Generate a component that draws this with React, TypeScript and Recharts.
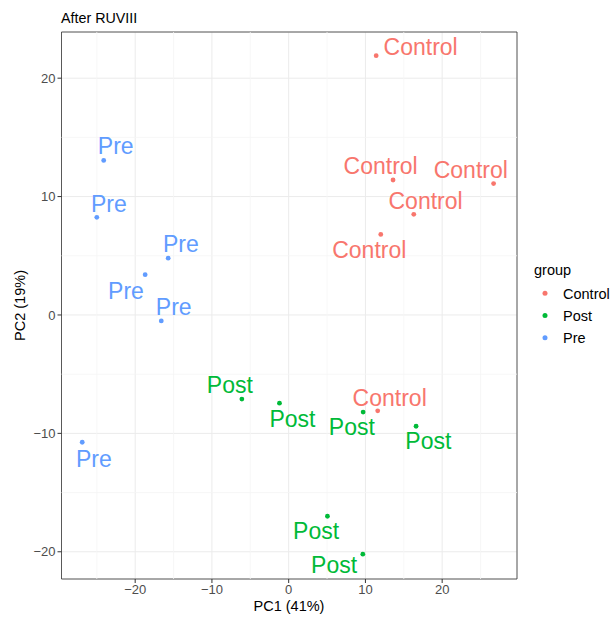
import React from "react"
import { ScatterChart, Scatter, XAxis, YAxis, CartesianGrid, ReferenceLine, ReferenceArea } from "recharts"

// PCA scores after RUVIII
const controlPC1 = [11.4, 13.6, 26.7, 16.3, 12.0, 11.6]
const controlPC2 = [21.9, 11.4, 11.1, 8.5, 6.8, -8.1]
const postPC1 = [-6.1, -1.2, 9.7, 16.6, 5.05, 9.66]
const postPC2 = [-7.1, -7.45, -8.2, -9.4, -17.0, -20.2]
const prePC1 = [-24.1, -25.0, -15.7, -18.7, -16.6, -26.9]
const prePC2 = [13.05, 8.25, 4.8, 3.4, -0.5, -10.75]

const xTicks = [-20, -10, 0, 10, 20]
const yTicks = [-20, -10, 0, 10, 20]
const xMinor = [-25, -15, -5, 5, 15, 25]
const yMinor = [-15, -5, 5, 15]

// repel-style label nudges (px) for each point, same order as the data
const controlNudge = [[44.5, -0.7], [-12.4, -6], [-22.8, -6], [11.8, -5.7], [-11.5, 23.3], [12, -5]]
const postNudge = [[-12, -5.7], [13, 23.4], [-11.3, 22.7], [12.3, 22.3], [-11.3, 22.6], [-28.7, 19.3]]
const preNudge = [[12, -6], [12, -5.3], [12.6, -5.7], [-19.2, 24], [12.5, -6.3], [11.6, 24.4]]

const groups = [
  { name: "Control", color: "#F8766D", xs: controlPC1, ys: controlPC2, nudge: controlNudge },
  { name: "Post", color: "#00BA38", xs: postPC1, ys: postPC2, nudge: postNudge },
  { name: "Pre", color: "#619CFF", xs: prePC1, ys: prePC2, nudge: preNudge },
]

const font = "'Liberation Sans', Arial, Helvetica, sans-serif"
const fmt = (v: number) => (v < 0 ? `\u2212${Math.abs(v)}` : `${v}`)

function LabelledDot(props: any) {
  const { cx, cy, payload, fill } = props
  if (cx == null || cy == null) return null
  return (
    <g>
      <circle cx={cx} cy={cy} r={2.4} fill={fill} />
      <text
        x={cx + payload.dx}
        y={cy + payload.dy}
        textAnchor="middle"
        fontSize={23}
        fontFamily={font}
        fill={fill}
      >
        {payload.label}
      </text>
    </g>
  )
}

export default function App() {
  return (
    <div style={{ position: "absolute", left: 0, top: 0, width: 611, height: 619, background: "#fff" }}>
      <ScatterChart
        width={611}
        height={619}
        margin={{ top: 32, right: 94, bottom: 0, left: 16.5 }}
        style={{ fontFamily: font }}
      >
        {xMinor.map((v) => (
          <ReferenceLine key={"xm" + v} x={v} stroke="#F5F5F5" strokeWidth={0.8} />
        ))}
        {yMinor.map((v) => (
          <ReferenceLine key={"ym" + v} y={v} stroke="#F5F5F5" strokeWidth={0.8} />
        ))}
        <CartesianGrid stroke="#EBEBEB" strokeWidth={1} />
        <XAxis
          type="number"
          dataKey="x"
          domain={[-29.6, 29.75]}
          ticks={xTicks}
          allowDataOverflow
          height={40}
          axisLine={false}
          tickLine={{ stroke: "#333333" }}
          tickSize={4}
          tickMargin={2}
          tick={{ fill: "#4D4D4D", fontSize: 13 }}
          tickFormatter={fmt}
        />
        <YAxis
          type="number"
          dataKey="y"
          domain={[-22.3, 23.9]}
          ticks={yTicks}
          allowDataOverflow
          width={45}
          axisLine={false}
          tickLine={{ stroke: "#333333" }}
          tickSize={4}
          tickMargin={2}
          tick={{ fill: "#4D4D4D", fontSize: 13 }}
          tickFormatter={fmt}
        />
        <ReferenceArea x1={-29.6} x2={29.75} y1={-22.3} y2={23.9} fill="none" stroke="#333333" strokeWidth={0.8} />
        {groups.map((g) => (
          <Scatter
            key={g.name}
            name={g.name}
            data={g.xs.map((x, i) => ({ x, y: g.ys[i], label: g.name, dx: g.nudge[i][0], dy: g.nudge[i][1] }))}
            fill={g.color}
            shape={<LabelledDot />}
            isAnimationActive={false}
          />
        ))}
      </ScatterChart>
      <svg
        width={611}
        height={619}
        style={{ position: "absolute", left: 0, top: 0, pointerEvents: "none", fontFamily: font }}
      >
        <text x={61} y={22.5} fontSize={14.3} fill="#000">After RUVIII</text>
        <text x={289} y={611} fontSize={14.5} textAnchor="middle" fill="#000">PC1 (41%)</text>
        <text x={25} y={305.5} fontSize={14.5} textAnchor="middle" fill="#000" transform="rotate(-90 25 305.5)">
          PC2 (19%)
        </text>
        <text x={534} y={275} fontSize={14.5} fill="#000">group</text>
        {groups.map((g, i) => (
          <g key={g.name}>
            <circle cx={545} cy={293.3 + i * 22.2} r={2.5} fill={g.color} />
            <text x={563} y={298.5 + i * 22.2} fontSize={14.5} fill="#000">{g.name}</text>
          </g>
        ))}
      </svg>
    </div>
  )
}
